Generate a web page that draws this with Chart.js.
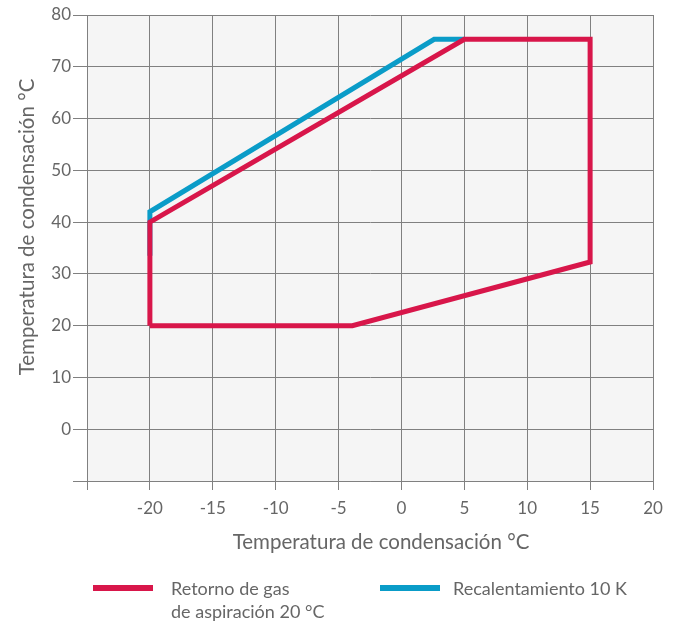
<!DOCTYPE html>
<html>
<head>
<meta charset="utf-8">
<script src="https://cdn.jsdelivr.net/npm/chart.js@4.4.1/dist/chart.umd.min.js"></script>
<style>
  html, body { margin: 0; padding: 0; background: #fff; }
  #wrap { width: 676px; height: 621px; position: relative; }
</style>
</head>
<body>
<div id="wrap"><canvas id="envelope-chart"></canvas></div>
<script>
// Envelope chart
// ------------------------------
const xMin = -25, xMax = 20, xStep = 5;
const yMin = -10, yMax = 80, yStep = 10;
const hiddenXTicks = [-25];
const hiddenYTicks = [-10];

const axisTitle = "Temperatura de condensación °C";

// Retorno de gas de aspiración 20 °C
const redLabel = ["Retorno de gas", "de aspiración 20 °C"];
const redX = [-20, -3.9, 15, 15, 5, -20, -20];
const redY = [20, 20, 32.3, 75.3, 75.3, 40, 20];

// Recalentamiento 10 K
const blueLabel = ["Recalentamiento 10 K"];
const blueX = [-20, -20, 2.6, 5];
const blueY = [33.5, 42, 75.3, 75.3];

const redColor = '#d8164a';
const blueColor = '#0a9cc8';
const textColor = '#666666';
const gridColor = '#808080';
const fontFamily = 'Lato, "Noto Sans", sans-serif';

function toPoints(xs, ys) {
    return xs.map((x, i) => ({ x: x, y: ys[i] }));
}

// grey plot background
const plotBackground = {
    id: 'plotBackground',
    beforeDraw(chart) {
        const a = chart.chartArea, ctx = chart.ctx;
        ctx.save();
        ctx.fillStyle = '#f5f5f5';
        ctx.fillRect(a.left, a.top, a.right - a.left, a.bottom - a.top);
        ctx.restore();
    }
};

// axis titles (both sit a little off-centre in the original) and two-line legend
const extras = {
    id: 'extras',
    afterDraw(chart) {
        const ctx = chart.ctx;
        ctx.save();
        ctx.fillStyle = textColor;
        ctx.font = '20.5px ' + fontFamily;
        ctx.textAlign = 'center';
        ctx.textBaseline = 'middle';
        ctx.fillText(axisTitle, 381, 542);
        ctx.translate(27, 227);
        ctx.rotate(-Math.PI / 2);
        ctx.fillText(axisTitle, 0, 0);
        ctx.restore();

        const items = [
            { ds: chart.data.datasets[0], x0: 93, x1: 153, tx: 171 },
            { ds: chart.data.datasets[1], x0: 380, x1: 440, tx: 453 }
        ];
        ctx.save();
        ctx.font = '18px ' + fontFamily;
        ctx.textAlign = 'left';
        ctx.textBaseline = 'middle';
        items.forEach(function (it) {
            ctx.strokeStyle = it.ds.borderColor;
            ctx.lineWidth = 6;
            ctx.beginPath();
            ctx.moveTo(it.x0, 588);
            ctx.lineTo(it.x1, 588);
            ctx.stroke();
            ctx.fillStyle = textColor;
            it.ds.legendText.forEach(function (line, i) {
                ctx.fillText(line, it.tx, 589 + i * 23);
            });
        });
        ctx.restore();
    }
};

var ctx = document.getElementById('envelope-chart');

var chartData = {
    datasets: [{
        label: redLabel.join(' '),
        legendText: redLabel,
        data: toPoints(redX, redY),
        borderColor: redColor,
        borderWidth: 5,
        borderJoinStyle: 'miter',
        showLine: true,
        pointRadius: 0,
        fill: false
    }, {
        label: blueLabel.join(' '),
        legendText: blueLabel,
        data: toPoints(blueX, blueY),
        borderColor: blueColor,
        borderWidth: 5,
        borderJoinStyle: 'miter',
        showLine: true,
        pointRadius: 0,
        fill: false
    }]
};

var chartOptions = {
    responsive: true,
    maintainAspectRatio: false,
    animation: false,
    layout: { padding: { left: 0, top: 15, right: 23, bottom: 60 } },
    plugins: {
        legend: { display: false },
        tooltip: { enabled: false }
    },
    scales: {
        x: {
            type: 'linear',
            min: xMin,
            max: xMax,
            afterFit: function (scale) { scale.height = 80; },
            ticks: {
                stepSize: xStep,
                color: textColor,
                padding: 8,
                font: { family: fontFamily, size: 17 },
                maxRotation: 0,
                callback: v => hiddenXTicks.includes(v) ? '' : String(v)
            },
            grid: { color: gridColor, lineWidth: 1, tickLength: 9 },
            border: { color: gridColor, width: 1 }
        },
        y: {
            type: 'linear',
            min: yMin,
            max: yMax,
            afterFit: function (scale) { scale.width = 87; },
            ticks: {
                stepSize: yStep,
                color: textColor,
                padding: 2,
                font: { family: fontFamily, size: 17 },
                callback: v => hiddenYTicks.includes(v) ? '' : String(v)
            },
            grid: { color: gridColor, lineWidth: 1, tickLength: 14 },
            border: { color: gridColor, width: 1 }
        }
    }
};

var config = {
    type: 'scatter',
    options: chartOptions,
    data: chartData,
    plugins: [plotBackground, extras]
};

var envelopeChart = new Chart(ctx, config);
</script>
</body>
</html>
